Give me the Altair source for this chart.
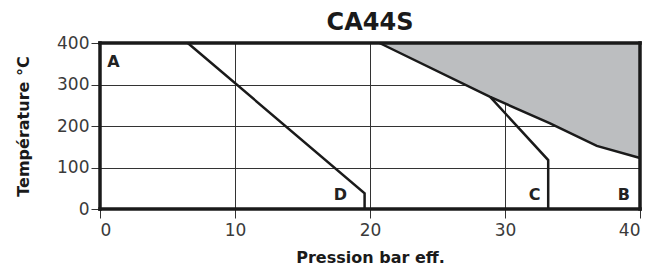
import altair as alt
import pandas as pd

# Data
curve_B_x = [20.7, 28.9, 33.3, 36.8, 40.0]
curve_B_y = [400, 270, 207, 152, 123]
line_C_x = [28.9, 33.2, 33.2]
line_C_y = [270, 118, 0]
line_D_x = [6.5, 19.6, 19.6]
line_D_y = [400, 38, 0]
label_text = ["A", "B", "C", "D"]
label_x = [1.0, 38.8, 32.2, 17.8]
label_y = [354, 34, 34, 34]
x_ticks = [0, 10, 20, 30, 40]
y_ticks = [0, 100, 200, 300, 400]

FONT = "DejaVu Sans"
INK = "#1a1a1a"

xs = alt.Scale(domain=[0, 40], nice=False)
ys = alt.Scale(domain=[0, 400], nice=False)

df_B = pd.DataFrame({"x": curve_B_x, "y": curve_B_y, "top": [400] * len(curve_B_x)})
df_C = pd.DataFrame({"x": line_C_x, "y": line_C_y, "o": list(range(len(line_C_x)))})
df_D = pd.DataFrame({"x": line_D_x, "y": line_D_y, "o": list(range(len(line_D_x)))})
df_lab = pd.DataFrame({"t": label_text, "x": label_x, "y": label_y})

x_enc = alt.X("x:Q", scale=xs, title="Pression bar eff.",
              axis=alt.Axis(values=x_ticks, grid=True, domain=False,
                            labelPadding=4, titlePadding=11))
y_enc = alt.Y("y:Q", scale=ys, title="Température °C",
              axis=alt.Axis(values=y_ticks, grid=True, domain=False,
                            titlePadding=25))

area = alt.Chart(df_B).mark_area(color="#bcbec0", opacity=1).encode(
    x=x_enc, y=y_enc, y2="top:Q")
line_B = alt.Chart(df_B).mark_line(color=INK, strokeWidth=2.5).encode(
    x=alt.X("x:Q", scale=xs), y=alt.Y("y:Q", scale=ys))
line_C = alt.Chart(df_C).mark_line(color=INK, strokeWidth=2.5).encode(
    x=alt.X("x:Q", scale=xs), y=alt.Y("y:Q", scale=ys), order="o:Q")
line_D = alt.Chart(df_D).mark_line(color=INK, strokeWidth=2.5).encode(
    x=alt.X("x:Q", scale=xs), y=alt.Y("y:Q", scale=ys), order="o:Q")

labels = alt.Chart(df_lab).mark_text(font=FONT, fontWeight="bold", fontSize=16,
                                     color="#222222").encode(
    x=alt.X("x:Q", scale=xs), y=alt.Y("y:Q", scale=ys), text="t:N")

frame_v = alt.Chart(pd.DataFrame({"x": [0, 40]})).mark_rule(
    color=INK, strokeWidth=3.5, strokeCap="square").encode(
    x=alt.X("x:Q", scale=xs), y=alt.datum(0, scale=ys), y2=alt.datum(400))
frame_h = alt.Chart(pd.DataFrame({"y": [0, 400]})).mark_rule(
    color=INK, strokeWidth=3.5, strokeCap="square").encode(
    y=alt.Y("y:Q", scale=ys), x=alt.datum(0, scale=xs), x2=alt.datum(40))

chart = alt.layer(area, line_B, line_C, line_D, labels, frame_v, frame_h).properties(
    width=540, height=166,
    title=alt.TitleParams("CA44S", font=FONT, fontSize=24, fontWeight="bold",
                          color=INK, anchor="middle", offset=-1),
    autosize=alt.AutoSizeParams(type="none"),
    padding={"left": 92, "top": 35, "right": 13, "bottom": 61},
).configure_view(stroke=None).configure_axis(
    labelFont=FONT, labelFontSize=17, labelColor="#3a3a3a",
    titleFont=FONT, titleFontSize=16, titleFontWeight="bold", titleColor=INK,
    tickColor="#333333", tickSize=9, tickWidth=1, labelPadding=2,
    gridColor="#333333", gridWidth=1, gridOpacity=1,
)

chart.save("out.html", embed_options={"renderer": "svg", "actions": False})
